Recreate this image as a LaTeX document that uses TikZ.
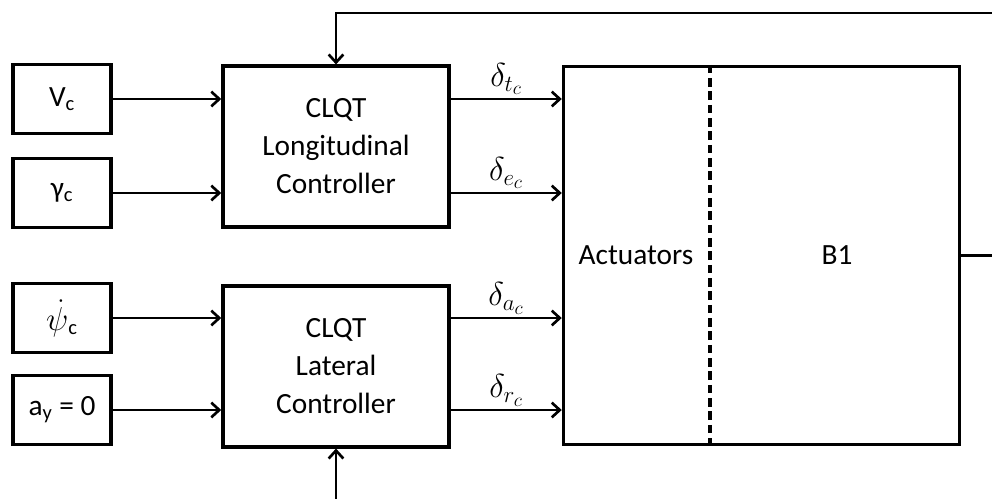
\documentclass[tikz,border=0pt]{standalone}
\usepackage{fontspec}
\setmainfont{Carlito}
\usetikzlibrary{calc, arrows.meta}

\tikzset{
  inbox/.style={draw, line width=2.6pt, minimum width=73.5pt, minimum height=51.5pt, inner sep=0pt},
  ctrlbox/.style={draw, line width=2.6pt, minimum width=169.5pt, minimum height=120.5pt, align=center, inner sep=0pt},
  plantbox/.style={draw, line width=2.6pt, minimum width=297pt, minimum height=283.5pt, inner sep=0pt},
  sig/.style={-{Straight Barb[length=6pt, width=11pt]}, line width=2pt},
  lbl/.style={above, inner sep=2pt, font=\fontsize{27}{30}\selectfont}
}

\begin{document}
\begin{tikzpicture}[x=0.75pt, y=-0.75pt, font=\fontsize{22}{28.5}\selectfont]
        \useasboundingbox (0,0) rectangle (992,499);

        % Reference inputs
        \node[inbox] (vc) at (62,99) {V\textsubscript{c}};
        \node[inbox] (gam) at (62,193) {γ\textsubscript{c}};
        \node[inbox] (psi) at (62,318) {\fontsize{27}{30}\selectfont$\dot{\psi}$\fontsize{22}{28.5}\selectfont\textsubscript{c}};
        \node[inbox] (ay) at (62,410) {a\textsubscript{y} = 0};

        % Controllers
        \node[ctrlbox] (long) at (336,146.5) {CLQT\\Longitudinal\\Controller};
        \node[ctrlbox] (lat) at (336,366.5) {CLQT\\Lateral\\Controller};

        % Actuators + B1
        \node[plantbox] (plant) at (761.5,255.5) {};
        \node (act) at (636,255) {Actuators};
        \node (b1) at (837,255) {B1};
        \coordinate (split) at (710,255);
        \draw[line width=2.6pt, dash pattern=on 6.5pt off 3.5pt] (split |- plant.north) -- (split |- plant.south);

        % Inputs to controllers
        \draw[sig] (vc.east) -- (vc.east -| long.west);
        \draw[sig] (gam.east) -- (gam.east -| long.west);
        \draw[sig] (psi.east) -- (psi.east -| lat.west);
        \draw[sig] (ay.east) -- (ay.east -| lat.west);

        % Commands to actuators
        \draw[sig] (long.east |- vc) -- node[lbl] {$\delta_{t_c}$} (plant.west |- vc);
        \draw[sig] (long.east |- gam) -- node[lbl] {$\delta_{e_c}$} (plant.west |- gam);
        \draw[sig] (lat.east |- psi) -- node[lbl] {$\delta_{a_c}$} (plant.west |- psi);
        \draw[sig] (lat.east |- ay) -- node[lbl] {$\delta_{r_c}$} (plant.west |- ay);

        % Feedback
        \coordinate (fbtop) at (992,13);
        \coordinate (out) at (992,255);
        \coordinate (fbbot) at (336,499);
        \draw[line width=1.8pt] (plant.east) -- (plant.east -| out);
        \draw[sig] (fbtop) -| (long.north);
        \draw[sig] (fbbot) -- (lat.south);

\end{tikzpicture}
\end{document}
